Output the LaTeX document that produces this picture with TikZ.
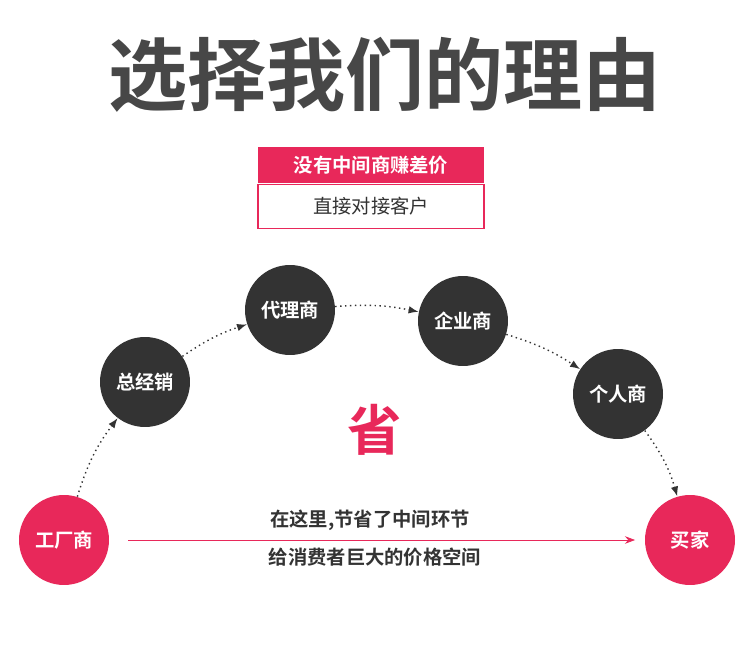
\documentclass[tikz,border=0pt]{standalone}
\usepackage{fontspec}
\newfontfamily\cjk{Noto Sans CJK SC}[BoldFont=* Bold]
\usetikzlibrary{positioning,arrows.meta}
\definecolor{darkball}{HTML}{333333}
\definecolor{rosered}{HTML}{E8285A}
\tikzset{
    ball/.style={circle, fill=darkball, minimum size=1.8cm, inner sep=0pt,
        text=white, font=\cjk\bfseries\fontsize{11}{13}\selectfont},
    pinkball/.style={ball, fill=rosered},
    hop/.style={thick, dotted, -{Latex[length=2mm]}, darkball},
    line/.style={font=\cjk\bfseries\fontsize{11}{13}\selectfont, text=darkball}
}
\begin{document}
\begin{tikzpicture}[x=0.02cm,y=-0.02cm]

\useasboundingbox[fill=white] (0,0) rectangle (750,655);

% Title
\node[font=\cjk\bfseries\fontsize{45}{50}\selectfont, text=darkball!90] (title) at (385,75) {选择我们的理由};

% Box
\node[fill=rosered, text=white, minimum width=4.52cm, minimum height=0.74cm,
    font=\cjk\bfseries\fontsize{11}{13}\selectfont] (head) at (371,165) {没有中间商赚差价};
\node[draw=rosered, thick, minimum width=4.52cm, minimum height=0.88cm, below=0pt of head,
    font=\cjk\fontsize{11}{13}\selectfont, text=darkball] (sub) {直接对接客户};

% Nodes
\node[pinkball] (factory) at (64,540) {工厂商};
\node[ball] (dealer) at (145,382) {总经销};
\node[ball] (agent) at (290,310) {代理商};
\node[ball] (firm) at (463,321) {企业商};
\node[ball] (person) at (618,394) {个人商};
\node[pinkball] (buyer) at (690,540) {买家};

% Dotted route
\draw[hop] (factory) to[bend left=10] (dealer);
\draw[hop] (dealer) to[bend left=8] (agent);
\draw[hop] (agent) to[bend left=8] (firm);
\draw[hop] (firm) to[bend left=8] (person);
\draw[hop] (person) to[bend left=10] (buyer);

\node[font=\cjk\bfseries\fontsize{31}{34}\selectfont, text=rosered] (save) at (375,430) {省};

% Direct line
\coordinate (from) at (128,540);
\coordinate (to) at (635,540);
\draw[rosered, -{Stealth[length=2mm]}] (from) -- (to);
\node[line] (top) at (370,520) {在这里,节省了中间环节};
\node[line] (bottom) at (375,557) {给消费者巨大的价格空间};

\end{tikzpicture}
\end{document}
